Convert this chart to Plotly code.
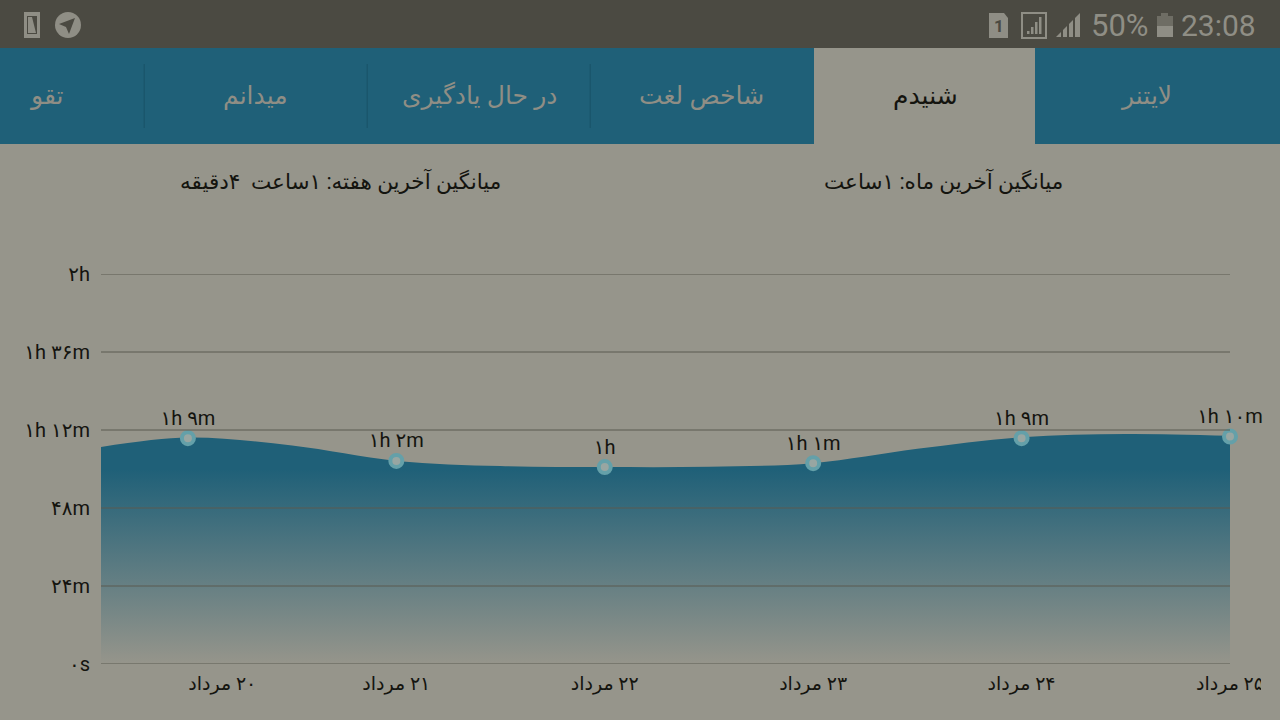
import plotly.graph_objects as go

# ---- data ----
days = [20, 21, 22, 23, 24, 25]
minutes = [69.5, 62.5, 60.6, 61.8, 69.5, 70.0]
point_labels = ["۱h ۹m", "۱h ۲m", "۱h", "۱h ۱m", "۱h ۹m", "۱h ۱۰m"]
curve_days = [19.583, 20, 20.5, 21, 21.5, 22, 22.5, 23, 23.5, 24, 24.5, 25]
curve_minutes = [66.8, 69.7, 67.2, 62.5, 60.9, 60.6, 60.7, 61.8, 66.2, 69.8, 70.8, 70.2]
y_ticks = [0, 24, 48, 72, 96, 120]
y_labels = ["۰s", "۲۴m", "۴۸m", "۱h ۱۲m", "۱h ۳۶m", "۲h"]
x_tick_days = [20.165, 21, 22, 23, 24, 25]
x_labels = ["\u200f۲۰ مرداد", "\u200f۲۱ مرداد", "\u200f۲۲ مرداد", "\u200f۲۳ مرداد", "\u200f۲۴ مرداد", "\u200f۲۵ مرداد"]
tab_labels = ["لایتنر", "شنیدم", "شاخص لغت", "در حال یادگیری", "میدانم", "تقو"]
tab_centers = [1146, 925, 701, 479, 255, 46]
avg_labels = ["میانگین آخرین ماه: ۱ساعت", "میانگین آخرین هفته: ۱ساعت\u00a0\u00a0۴دقیقه"]
avg_centers = [943, 340.5]

# ---- style ----
W, H = 1280, 720
BG = "#96958b"
BAR = "#4b4a42"
BLUE = "#1f6078"
DIV = "#1a566c"
GRID = "#5b5a50"
ICON = "#8f8e85"
INK = "#14140f"
FONT = "Roboto, 'DejaVu Sans', sans-serif"


def px(x):
    return x / W


def py(y):
    return 1 - y / H


def rect(x0, y0, x1, y1, color, layer="above"):
    return dict(type="rect", xref="paper", yref="paper", x0=px(x0), x1=px(x1), y0=py(y0), y1=py(y1),
                fillcolor=color, line=dict(width=0), layer=layer)


def poly(points, color):
    d = "M " + " L ".join(f"{px(a):.5f},{py(b):.5f}" for a, b in points) + " Z"
    return dict(type="path", xref="paper", yref="paper", path=d, fillcolor=color, line=dict(width=0), layer="above")


def circle(x0, y0, x1, y1, color):
    return dict(type="circle", xref="paper", yref="paper", x0=px(x0), x1=px(x1), y0=py(y0), y1=py(y1),
                fillcolor=color, line=dict(width=0), layer="above")


def note(x, y, text, size, color, anchor="center"):
    return dict(xref="paper", yref="paper", x=px(x), y=py(y), text=text, showarrow=False,
                xanchor=anchor, yanchor="middle", font=dict(size=size, color=color, family=FONT))


shapes = [
    rect(0, 0, 1280, 48, BAR),
    rect(0, 48, 1280, 144, BLUE),
    rect(814, 48, 1035, 144, BG),
]
for x in [143.5, 366.5, 589.5]:
    shapes.append(rect(x, 64, x + 1.5, 128, DIV))
# small status bar icons
shapes += [
    rect(24, 12, 40, 38, ICON),
    poly([(27, 16), (37, 16), (37, 34), (27, 34)], BAR),
    poly([(28, 17), (32, 17), (36, 33), (28, 33)], ICON),
    circle(55, 12, 81, 38, ICON),
    poly([(59, 24), (75, 18), (69, 34), (66, 27)], BAR),
    poly([(989, 13), (1004, 13), (1008, 18), (1008, 38), (989, 38)], ICON),
    rect(1021, 12, 1047, 39, ICON),
    rect(1023, 14, 1045, 37, BAR),
    poly([(1056, 37), (1080, 13), (1080, 37)], ICON),
]
for i, h in enumerate([3, 7, 12, 17]):
    shapes.append(rect(1027 + i * 4, 34 - h, 1029.5 + i * 4, 34, ICON))
for x in [1061, 1067, 1073]:
    shapes.append(rect(x, 13, x + 2, 37, BAR))
shapes += [
    rect(1161, 13, 1168, 16, "#6e6d64"),
    rect(1157, 16, 1173, 26, "#6e6d64"),
    rect(1157, 26, 1173, 37, ICON),
]
# grid lines stay visible through the filled area
for v in y_ticks:
    shapes.append(dict(type="line", xref="x domain", yref="y", x0=0, x1=1, y0=v, y1=v,
                       line=dict(color=GRID, width=1), layer="above"))
# last x label is cut by the chart's right edge
shapes.append(rect(1261, 670, 1280, 700, BG))

annotations = [note(x, 96, t, 25, INK if t == tab_labels[1] else ICON) for x, t in zip(tab_centers, tab_labels)]
annotations += [note(x, 181, t, 21.5, INK) for x, t in zip(avg_centers, avg_labels)]
annotations += [note(1151, 26, "50%", 31, ICON, "right"), note(1258, 26, "23:08", 30, ICON, "right"),
                note(998.5, 26, "<b>1</b>", 17, BAR)]

fig = go.Figure()
fig.add_trace(go.Scatter(
    x=curve_days, y=curve_minutes, mode="lines", line=dict(shape="spline", width=0, smoothing=1.0),
    fill="tozeroy", hoverinfo="skip",
    fillgradient=dict(type="vertical", start=60, stop=0,
                      colorscale=[[0, "rgba(31,96,120,1)"], [1, "rgba(31,96,120,0)"]]),
))
fig.add_trace(go.Scatter(
    x=days, y=minutes, mode="markers+text", text=point_labels, textposition="top center",
    textfont=dict(size=20, color=INK, family=FONT),
    marker=dict(size=12, color="#98a6a2", line=dict(color="#64a0a9", width=4)),
    cliponaxis=False,
))
fig.update_layout(
    width=W, height=H, autosize=False, showlegend=False,
    paper_bgcolor=BG, plot_bgcolor=BG,
    margin=dict(l=0, r=0, t=0, b=0),
    xaxis=dict(domain=[101 / W, 1230 / W], range=[19.583, 25], tickvals=x_tick_days, ticktext=x_labels,
               showgrid=False, zeroline=False, showline=False, ticks="", tickangle=0, automargin=False,
               tickfont=dict(size=19, color=INK, family=FONT), ticklabelstandoff=6),
    yaxis=dict(domain=[(H - 664) / H, (H - 274) / H], range=[0, 120], tickvals=y_ticks, ticktext=y_labels,
               showgrid=False, zeroline=False, showline=False, ticks="", automargin=False,
               tickfont=dict(size=20, color=INK, family=FONT), ticklabelstandoff=10),
    shapes=shapes, annotations=annotations,
)
fig.write_html("out.html", config=dict(displayModeBar=False),
               post_script="document.documentElement.style.margin='0';document.body.style.margin='0';"
                           "document.body.style.overflow='hidden';document.documentElement.style.background='#96958b';")
